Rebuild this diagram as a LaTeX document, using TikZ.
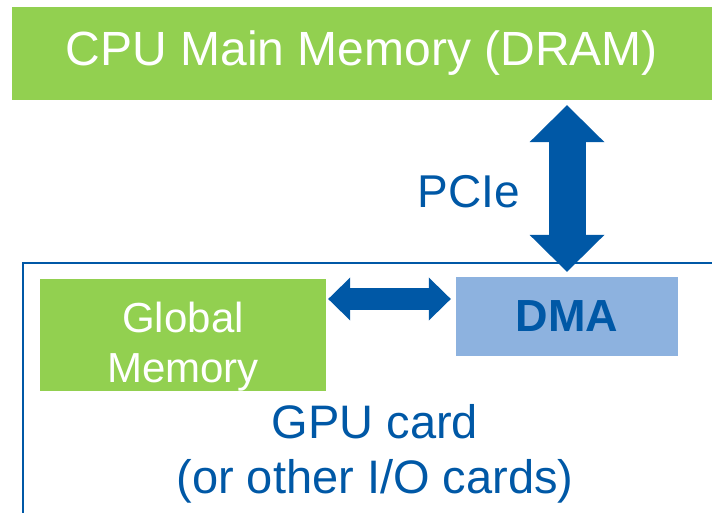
\documentclass[tikz,border=0pt]{standalone}
\usepackage{fontspec}
\setmainfont{Liberation Sans}
\usetikzlibrary{arrows.meta}
\definecolor{cpugreen}{RGB}{146,208,80}
\definecolor{pcieblue}{RGB}{0,88,166}
\definecolor{dmablue}{RGB}{141,178,223}

\begin{document}
\begin{tikzpicture}[x=1pt, y=1pt,
    greenbox/.style={fill=cpugreen, inner sep=0pt},
    whitetext/.style={text=white, inner sep=0pt},
    bluetext/.style={text=pcieblue, inner sep=0pt},
    busarrow/.style={pcieblue, line width=37pt,
        {Triangle[length=37pt, width=75pt, line width=0pt]}-{Triangle[length=37pt, width=75pt, line width=0pt]}},
    linkarrow/.style={pcieblue, line width=22pt,
        {Triangle[length=22pt, width=43pt, line width=0pt]}-{Triangle[length=22pt, width=43pt, line width=0pt]}}]

    \useasboundingbox (0,0) rectangle (712,512);

    % 1. Bo nho chinh CPU
    \node[greenbox, minimum width=700pt, minimum height=93pt, text=white,
        font=\fontsize{48}{58}\selectfont] (cpu) at (362,458.5) {CPU Main Memory (DRAM)};

    % 2. Khung card GPU
    \draw[pcieblue, line width=2pt] (714,249) -- (23,249) -- (23,-2);

    % 3. Global memory va DMA
    \node[greenbox, minimum width=286pt, minimum height=112pt] (gmem) at (183,177) {};
    \node[whitetext, align=center, font=\fontsize{42}{50}\selectfont] (gmemtxt) at (183,165) {Global\\Memory};
    \node[fill=dmablue, inner sep=0pt, minimum width=222pt, minimum height=79pt, text=pcieblue,
        font=\fontsize{45}{54}\selectfont\bfseries] (dma) at (567,195.5) {DMA};

    % 4. Nhan
    \node[bluetext, font=\fontsize{46}{55}\selectfont] (pcie) at (469,320.5) {PCIe};
    \node[bluetext, align=center, font=\fontsize{47}{55}\selectfont] (gpu) at (375,58) {GPU card\\(or other I/O cards)};

    % 5. Mui ten hai chieu
    \draw[busarrow, shorten <=5pt, shorten >=5pt] (cpu.south -| dma.north) -- (dma.north);
    \coordinate (lnk) at (0,213);
    \draw[linkarrow, shorten <=2pt, shorten >=5pt] (gmem.east |- lnk) -- (dma.west |- lnk);
\end{tikzpicture}
\end{document}
